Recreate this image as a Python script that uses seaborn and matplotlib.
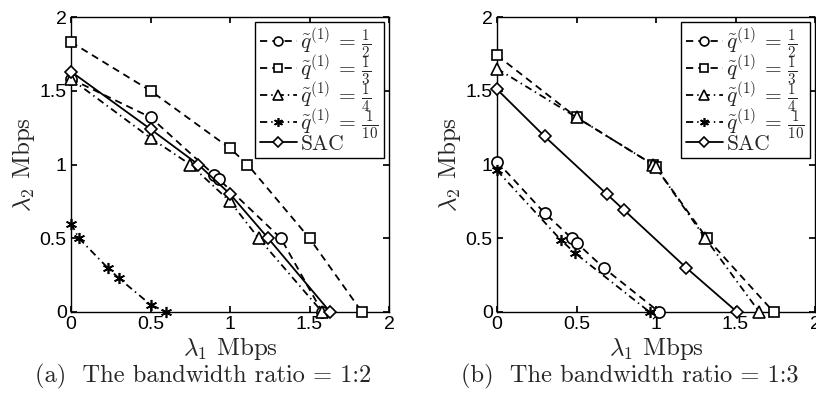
import matplotlib
matplotlib.use("Agg")
import matplotlib.pyplot as plt
import seaborn as sns
import pandas as pd

# ---------------- data ----------------
labels = [r"$\tilde{q}^{(1)}\,=\,\frac{1}{2}$", r"$\tilde{q}^{(1)}\,=\,\frac{1}{3}$",
          r"$\tilde{q}^{(1)}\,=\,\frac{1}{4}$", r"$\tilde{q}^{(1)}\,=\,\frac{1}{10}$", "SAC"]

# panel (a): bandwidth ratio 1:2
a_half_x = [0.0, 0.5, 0.9, 0.93, 1.32, 1.58]
a_half_y = [1.58, 1.32, 0.93, 0.9, 0.5, 0.0]
a_third_x = [0.0, 0.5, 1.0, 1.11, 1.5, 1.83]
a_third_y = [1.83, 1.5, 1.11, 1.0, 0.5, 0.0]
a_quarter_x = [0.0, 0.5, 0.75, 1.0, 1.18, 1.58]
a_quarter_y = [1.58, 1.18, 1.0, 0.75, 0.5, 0.0]
a_tenth_x = [0.0, 0.05, 0.23, 0.3, 0.5, 0.6]
a_tenth_y = [0.6, 0.5, 0.3, 0.23, 0.05, 0.0]
a_sac_x = [0.0, 0.5, 0.8, 1.0, 1.24, 1.63]
a_sac_y = [1.63, 1.24, 1.0, 0.8, 0.5, 0.0]

# panel (b): bandwidth ratio 1:3
b_half_x = [0.0, 0.3, 0.47, 0.5, 0.67, 1.02]
b_half_y = [1.02, 0.67, 0.5, 0.47, 0.3, 0.0]
b_third_x = [0.0, 0.5, 0.98, 1.0, 1.32, 1.74]
b_third_y = [1.74, 1.32, 1.0, 0.98, 0.5, 0.0]
b_quarter_x = [0.0, 0.5, 0.98, 1.0, 1.31, 1.65]
b_quarter_y = [1.65, 1.32, 1.0, 0.98, 0.5, 0.0]
b_tenth_x = [0.0, 0.4, 0.49, 0.96]
b_tenth_y = [0.96, 0.49, 0.4, 0.0]
b_sac_x = [0.0, 0.3, 0.69, 0.8, 1.19, 1.51]
b_sac_y = [1.51, 1.19, 0.8, 0.69, 0.3, 0.0]

x_ticks = [0, 0.5, 1, 1.5, 2]
x_tick_labels = ["0", "0.5", "1", "1.5", "2"]
y_ticks = [0, 0.5, 1, 1.5, 2]
y_tick_labels = ["0", "0.5", "1", "1.5", "2"]
captions = ["(a)  The bandwidth ratio = 1:2", "(b)  The bandwidth ratio = 1:3"]

panels = [
    [(a_half_x, a_half_y), (a_third_x, a_third_y), (a_quarter_x, a_quarter_y),
     (a_tenth_x, a_tenth_y), (a_sac_x, a_sac_y)],
    [(b_half_x, b_half_y), (b_third_x, b_third_y), (b_quarter_x, b_quarter_y),
     (b_tenth_x, b_tenth_y), (b_sac_x, b_sac_y)],
]

dash = (0, (4, 2.8))
dashdot = (0, (4, 2.2, 0.8, 2.2))
styles = [
    dict(marker="o", linestyle=dash, markerfacecolor="white", markersize=8),
    dict(marker="s", linestyle=dash, markerfacecolor="white", markersize=7),
    dict(marker="^", linestyle=dashdot, markerfacecolor="white", markersize=9),
    dict(marker=(6, 2, 0), linestyle=dashdot, markerfacecolor="black", markersize=8),
    dict(marker="D", linestyle="-", markerfacecolor="white", markersize=6.5),
]

# ---------------- style ----------------
sns.set_theme(style="ticks")
plt.rcParams.update({
    "font.family": ["Liberation Sans", "DejaVu Sans"],
    "mathtext.fontset": "cm",
    "xtick.direction": "in",
    "ytick.direction": "in",
    "xtick.top": True,
    "ytick.right": True,
    "xtick.major.size": 4,
    "ytick.major.size": 4,
    "axes.linewidth": 1.0,
    "axes.edgecolor": "black",
})

fig = plt.figure(figsize=(8.16, 4.05), dpi=100)
ax_rects = [[71 / 816, 1 - 312 / 405, 318 / 816, 295 / 405],
            [497 / 816, 1 - 312 / 405, 318 / 816, 295 / 405]]
caption_x = [203 / 816, 630 / 816]

serif = "cmr10"
for pi, rect in enumerate(ax_rects):
    ax = fig.add_axes(rect)
    for si, (xs, ys) in enumerate(panels[pi]):
        df = pd.DataFrame({"x": xs, "y": ys})
        st = styles[si]
        sns.lineplot(data=df, x="x", y="y", ax=ax, sort=False, estimator=None,
                     color="black", linewidth=1.3, marker=st["marker"],
                     linestyle=st["linestyle"], markersize=st["markersize"],
                     markerfacecolor=st["markerfacecolor"], markeredgecolor="black",
                     markeredgewidth=1.2, label=labels[si], clip_on=False, zorder=3)
    ax.set_xlim(0, 2)
    ax.set_ylim(0, 2)
    ax.set_xticks(x_ticks)
    ax.set_xticklabels(x_tick_labels)
    ax.set_yticks(y_ticks)
    ax.set_yticklabels(y_tick_labels)
    ax.tick_params(labelsize=14, pad=3, color="black", labelcolor="black")
    ax.set_xlabel(r"$\lambda_1$ Mbps", fontsize=18, family=serif, labelpad=1)
    ax.set_ylabel(r"$\lambda_2$ Mbps", fontsize=18, family=serif, labelpad=2)
    for sp in ax.spines.values():
        sp.set_visible(True)
        sp.set_color("black")
    leg = ax.legend(loc="upper right", frameon=True, fancybox=False,
                    edgecolor="black", framealpha=1, handlelength=1.75,
                    handletextpad=0.15, labelspacing=-0.3, borderpad=0.2,
                    borderaxespad=0.25, markerscale=0.8,
                    prop={"family": serif, "size": 15.5})
    leg.get_frame().set_linewidth(1.0)
    fig.text(caption_x[pi], 1 - 376 / 405, captions[pi], ha="center", va="center",
             fontsize=17.6, family=serif)

fig.savefig("out.png", dpi=100)
